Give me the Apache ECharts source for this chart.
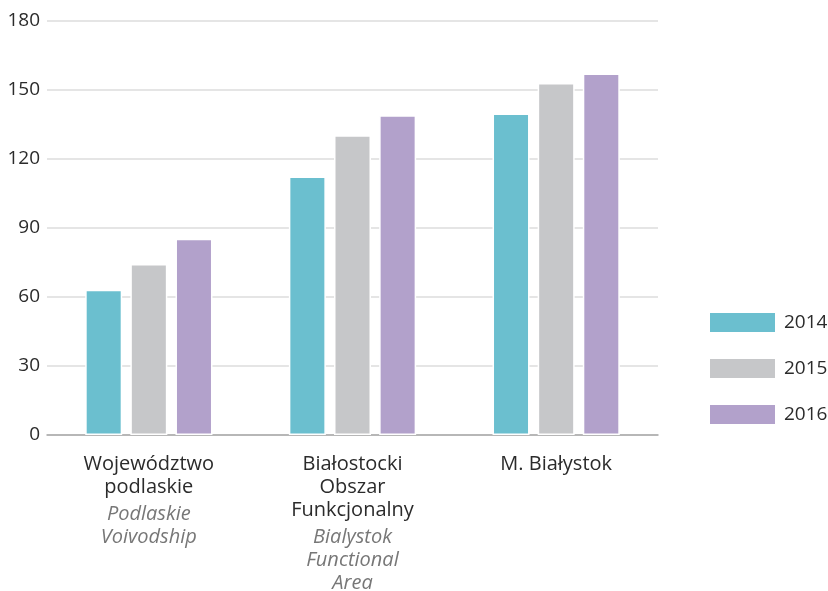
<!DOCTYPE html>
<html>
<head>
<meta charset="utf-8">
<script src="https://cdn.jsdelivr.net/npm/echarts@6/dist/echarts.min.js"></script>
<style>html,body{margin:0;padding:0;background:#fff}#c{width:828px;height:591px}</style>
</head>
<body>
<div id="c"></div>
<script>
const categoriesPL = [["Województwo", "podlaskie"], ["Białostocki", "Obszar", "Funkcjonalny"], ["M. Białystok"]];
const categoriesEN = [["Podlaskie", "Voivodship"], ["Bialystok", "Functional", "Area"], []];
const seriesNames = ["2014", "2015", "2016"];
const values2014 = [63.1, 112.3, 139.6];
const values2015 = [74.3, 130.2, 152.9];
const values2016 = [85.2, 138.9, 157.0];
const yTicks = [0, 30, 60, 90, 120, 150, 180];
const colors = ["#6bbfcf", "#c6c7c9", "#b2a1cb"];

const FONT = "Open Sans";
const chart = echarts.init(document.getElementById('c'), null, {renderer: 'canvas'});
const catKeys = categoriesPL.map((_, i) => 'c' + i);
const option = {
  animation: false,
  textStyle: {fontFamily: FONT},
  grid: {left: 47, right: 170, top: 20.5, bottom: 156, containLabel: false, outerBoundsMode: 'none'},
  legend: {
    orient: 'vertical', left: 703, top: 306,
    icon: 'rect', itemWidth: 67, itemHeight: 21, itemGap: 23,
    textStyle: {fontSize: 19, lineHeight: 21, color: '#2b2b2b', fontFamily: FONT, padding: [0, 0, 0, 3]},
    data: seriesNames
  },
  xAxis: {
    type: 'category',
    data: catKeys,
    axisTick: {show: false},
    axisLine: {lineStyle: {color: '#a8a8a8', width: 1.5}},
    axisLabel: {
      margin: 18,
      interval: 0,
      formatter: function (v, idx) {
        const pl = categoriesPL[idx].map(s => '{a|' + s + '}');
        const en = categoriesEN[idx].map(s => '{b|' + s + '}');
        return pl.concat(en.length ? ['{s| }'] : [], en).join('\n');
      },
      rich: {
        a: {fontSize: 20, color: '#2b2b2b', fontFamily: FONT, lineHeight: 23},
        b: {fontSize: 20, color: '#777', fontStyle: 'italic', fontFamily: FONT, lineHeight: 23},
        s: {fontSize: 4, lineHeight: 4}
      }
    }
  },
  yAxis: {
    type: 'value', min: yTicks[0], max: yTicks[yTicks.length - 1], interval: 30,
    axisLine: {show: false}, axisTick: {show: false},
    axisLabel: {fontSize: 19, color: '#2b2b2b', margin: 7, fontFamily: FONT},
    splitLine: {lineStyle: {color: '#dcdcdc', width: 1.5}}
  },
  series: [values2014, values2015, values2016].map((d, i) => ({
    name: seriesNames[i], type: 'bar', data: d,
    barWidth: 37, barGap: '22%',
    itemStyle: {color: colors[i], borderColor: '#fff', borderWidth: 1.5}
  }))
};
chart.setOption(option);
</script>
</body>
</html>
